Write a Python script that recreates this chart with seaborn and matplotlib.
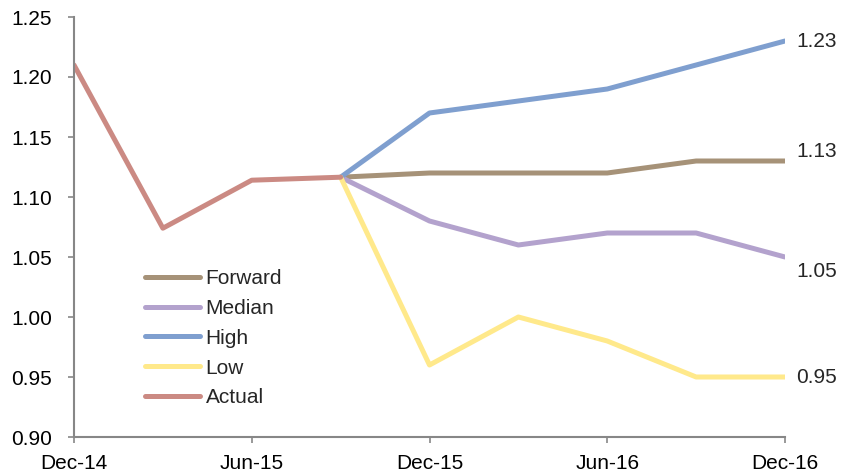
import matplotlib
matplotlib.use("Agg")
import matplotlib.pyplot as plt
import seaborn as sns
import pandas as pd

quarters = ["Dec-14", "Mar-15", "Jun-15", "Sep-15", "Dec-15",
            "Mar-16", "Jun-16", "Sep-16", "Dec-16"]
tick_labels = ["Dec-14", "Jun-15", "Dec-15", "Jun-16", "Dec-16"]

actual = [1.21, 1.074, 1.114, 1.1165]
forward = [1.1165, 1.12, 1.12, 1.12, 1.13, 1.13]
median = [1.1165, 1.08, 1.06, 1.07, 1.07, 1.05]
high = [1.1165, 1.17, 1.18, 1.19, 1.21, 1.23]
low = [1.1165, 0.96, 1.00, 0.98, 0.95, 0.95]

end_labels = ["1.23", "1.13", "1.05", "0.95"]
end_label_y = [1.23, 1.138, 1.038, 0.95]

series_order = ["Forward", "Median", "High", "Low", "Actual"]
palette = {
    "Forward": "#A69278",
    "Median": "#B3A2CD",
    "High": "#7F9FCF",
    "Low": "#FFE98B",
    "Actual": "#CB8A83",
}

rows = []
for i, v in enumerate(actual):
    rows.append({"q": i, "value": v, "series": "Actual"})
start = len(actual) - 1
for name, vals in [("Forward", forward), ("Median", median),
                   ("High", high), ("Low", low)]:
    for j, v in enumerate(vals):
        rows.append({"q": start + j, "value": v, "series": name})
df = pd.DataFrame(rows)

sns.set_theme(style="ticks")
plt.rcParams["font.family"] = ["Liberation Sans", "DejaVu Sans"]

fig = plt.figure(figsize=(8.57, 4.75), dpi=100)
ax = fig.add_axes([74 / 857, 1 - 437 / 475, (785 - 74) / 857, (437 - 17) / 475])

sns.lineplot(data=df, x="q", y="value", hue="series", hue_order=series_order,
             palette=palette, linewidth=3.6, ax=ax, legend=True,
             solid_capstyle="round")

ax.set_xlim(0, len(quarters) - 1)
ax.set_ylim(0.90, 1.25)
ax.set_xticks(range(0, len(quarters), 2))
ax.set_xticklabels(tick_labels)
ax.set_yticks([0.90 + 0.05 * k for k in range(8)])
ax.set_yticklabels([f"{0.90 + 0.05 * k:.2f}" for k in range(8)])
ax.set_xlabel("")
ax.set_ylabel("")

for side in ["top", "right"]:
    ax.spines[side].set_visible(False)
for side in ["left", "bottom"]:
    ax.spines[side].set_color("#878787")
    ax.spines[side].set_linewidth(1.5)
ax.tick_params(axis="both", colors="#878787", labelcolor="black",
               labelsize=15, length=4, width=1.2, direction="out")
ax.tick_params(axis="y", pad=12)
ax.tick_params(axis="x", pad=8.5)

for txt, yv in zip(end_labels, end_label_y):
    ax.text(len(quarters) - 1 + 0.13, yv, txt, fontsize=15,
            va="center", ha="left", clip_on=False)

leg = ax.legend(loc="upper left", bbox_to_anchor=(0.1, 0.40),
                frameon=False, fontsize=15, handlelength=2.65,
                handletextpad=0.25, labelspacing=0.52, borderaxespad=0,
                borderpad=0)
for line in leg.get_lines():
    line.set_linewidth(3.6)
    line.set_solid_capstyle("round")

fig.savefig("out.png", dpi=100)
